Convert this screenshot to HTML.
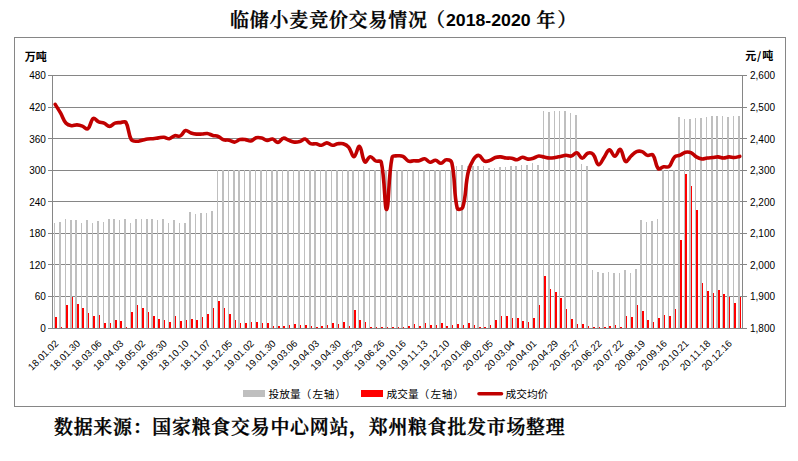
<!DOCTYPE html>
<html><head><meta charset="utf-8"><title>临储小麦竞价交易情况（2018-2020年）</title>
<style>
html,body{margin:0;padding:0;background:#fff;}
body{width:798px;height:461px;overflow:hidden;position:relative;}
svg{position:absolute;left:0;top:0;display:block;}
text{text-spacing-trim:space-all;font-kerning:none;}
.ax text{font-family:"Liberation Sans","Noto Sans CJK SC",sans-serif;font-size:9.8px;fill:#000;}
.ax text.y{font-size:10px;}
.ttl{font-family:"Liberation Serif","Noto Serif CJK SC",serif;font-weight:600;font-size:18.9px;letter-spacing:0.9px;fill:#000;stroke:#000;stroke-width:0.35px;}
.ttl.d{font-family:"Liberation Sans",sans-serif;font-size:16.5px;letter-spacing:0;stroke:none;}
.unit{font-family:"Liberation Sans","Noto Sans CJK SC",sans-serif;font-weight:700;font-size:11px;fill:#000;}
.leg{font-family:"Liberation Sans","Noto Sans CJK SC",sans-serif;font-size:10.7px;fill:#000;}
.src{font-family:"Liberation Serif","Noto Serif CJK SC",serif;font-weight:600;font-size:18.9px;letter-spacing:0.78px;fill:#000;stroke:#000;stroke-width:0.35px;}
</style></head>
<body>
<svg width="798" height="461" viewBox="0 0 798 461">
<rect x="0" y="0" width="798" height="461" fill="#fff"/>
<text class="ttl" x="230" y="26.7">临储小麦竞价交易情况</text><text class="ttl" x="426" y="26.7">（</text><text class="ttl d" x="446" y="25.8" textLength="84.6" lengthAdjust="spacingAndGlyphs">2018-2020</text><text class="ttl" x="536.5" y="26.7">年</text><text class="ttl" x="557.5" y="26.7">）</text>
<rect x="14.5" y="37.5" width="771" height="369" fill="#fff" stroke="#868686" stroke-width="1"/>
<text class="unit" x="24.8" y="60.5">万吨</text>
<text class="unit" x="745.3" y="59.8">元<tspan dx="0.6" style="font-family:'Noto Sans CJK SC',sans-serif;font-weight:700">/</tspan><tspan dx="1.2">吨</tspan></text>
<line x1="48" y1="75.5" x2="747" y2="75.5" stroke="#868686" stroke-width="1"/>
<line x1="48" y1="107.5" x2="747" y2="107.5" stroke="#868686" stroke-width="1"/>
<line x1="48" y1="138.5" x2="747" y2="138.5" stroke="#868686" stroke-width="1"/>
<line x1="48" y1="170.5" x2="747" y2="170.5" stroke="#868686" stroke-width="1"/>
<line x1="48" y1="201.5" x2="747" y2="201.5" stroke="#868686" stroke-width="1"/>
<line x1="48" y1="233.5" x2="747" y2="233.5" stroke="#868686" stroke-width="1"/>
<line x1="48" y1="264.5" x2="747" y2="264.5" stroke="#868686" stroke-width="1"/>
<line x1="48" y1="296.5" x2="747" y2="296.5" stroke="#868686" stroke-width="1"/>
<line x1="48" y1="328.5" x2="747" y2="328.5" stroke="#868686" stroke-width="1"/>
<path d="M54 328V223H55V328zM59 328V222H61V328zM65 328V219H66V328zM70 328V220H72V328zM75 328V220H77V328zM81 328V223H82V328zM86 328V220H88V328zM92 328V223H93V328zM97 328V221H99V328zM103 328V222H104V328zM108 328V219H110V328zM113 328V219H115V328zM119 328V220H120V328zM124 328V219H126V328zM130 328V223H131V328zM135 328V219H137V328zM141 328V219H142V328zM146 328V219H148V328zM151 328V219H153V328zM157 328V220H158V328zM162 328V219H164V328zM168 328V223H169V328zM173 328V220H175V328zM179 328V223H180V328zM184 328V223H186V328zM189 328V212H191V328zM195 328V214H196V328zM200 328V213H202V328zM206 328V213H207V328zM211 328V211H213V328zM217 328V170H218V328zM222 328V170H224V328zM228 328V170H229V328zM233 328V170H235V328zM238 328V170H240V328zM244 328V170H245V328zM249 328V170H251V328zM255 328V170H256V328zM260 328V170H262V328zM266 328V170H267V328zM271 328V170H273V328zM276 328V170H278V328zM282 328V170H283V328zM287 328V170H289V328zM293 328V170H294V328zM298 328V170H300V328zM304 328V170H305V328zM309 328V170H311V328zM314 328V170H316V328zM320 328V170H321V328zM325 328V170H327V328zM331 328V170H332V328zM336 328V170H338V328zM342 328V170H343V328zM347 328V170H349V328zM352 328V170H354V328zM358 328V170H359V328zM363 328V170H365V328zM369 328V170H370V328zM374 328V170H376V328zM380 328V170H381V328zM385 328V170H387V328zM391 328V170H392V328zM396 328V170H398V328zM401 328V170H403V328zM407 328V170H408V328zM412 328V170H414V328zM418 328V170H419V328zM423 328V170H425V328zM429 328V170H430V328zM434 328V170H436V328zM439 328V170H441V328zM445 328V170H446V328zM450 328V170H452V328zM456 328V166H457V328zM461 328V165H463V328zM467 328V166H468V328zM472 328V166H474V328zM477 328V166H479V328zM483 328V166H484V328zM488 328V168H490V328zM494 328V168H495V328zM499 328V167H501V328zM505 328V167H506V328zM510 328V166H512V328zM515 328V166H517V328zM521 328V165H522V328zM526 328V165H528V328zM532 328V163H533V328zM537 328V165H539V328zM543 328V111H544V328zM548 328V112H550V328zM554 328V111H555V328zM559 328V111H560V328zM564 328V111H566V328zM570 328V113H571V328zM575 328V115H577V328zM581 328V164H582V328zM586 328V166H588V328zM592 328V270H593V328zM597 328V272H599V328zM602 328V273H604V328zM608 328V272H609V328zM613 328V273H615V328zM619 328V273H620V328zM624 328V270H626V328zM630 328V273H631V328zM635 328V269H637V328zM640 328V220H642V328zM646 328V222H647V328zM651 328V221H653V328zM657 328V219H658V328zM662 328V170H664V328zM668 328V170H669V328zM673 328V170H675V328zM678 328V117H680V328zM684 328V119H685V328zM689 328V119H691V328zM695 328V118H696V328zM700 328V118H702V328zM706 328V117H707V328zM711 328V116H713V328zM716 328V116H718V328zM722 328V116H723V328zM727 328V117H729V328zM733 328V116H734V328zM738 328V116H740V328z" fill="#BFBFBF" shape-rendering="crispEdges"/>
<path d="M55 328V317H57V328zM61 328V327H62V328zM66 328V305H68V328zM72 328V297H73V328zM77 328V304H79V328zM82 328V308H84V328zM88 328V313H89V328zM93 328V316H95V328zM99 328V315H100V328zM104 328V323H106V328zM110 328V323H111V328zM115 328V320H117V328zM120 328V321H122V328zM126 328V327H127V328zM131 328V312H133V328zM137 328V305H138V328zM142 328V308H144V328zM148 328V312H149V328zM153 328V316H155V328zM158 328V319H160V328zM164 328V320H165V328zM169 328V322H171V328zM175 328V316H176V328zM180 328V321H182V328zM186 328V320H187V328zM191 328V319H193V328zM196 328V320H198V328zM202 328V317H203V328zM207 328V314H209V328zM213 328V308H214V328zM218 328V301H220V328zM224 328V308H225V328zM229 328V314H231V328zM235 328V320H236V328zM240 328V323H241V328zM245 328V323H247V328zM251 328V322H252V328zM256 328V322H258V328zM262 328V323H263V328zM267 328V323H269V328zM273 328V326H274V328zM278 328V326H280V328zM283 328V326H285V328zM289 328V325H290V328zM294 328V324H296V328zM300 328V325H301V328zM305 328V325H307V328zM311 328V326H312V328zM316 328V327H318V328zM321 328V326H323V328zM327 328V325H328V328zM332 328V323H334V328zM338 328V324H339V328zM343 328V322H345V328zM349 328V326H350V328zM354 328V310H356V328zM359 328V320H361V328zM365 328V322H366V328zM370 328V327H372V328zM376 328V327H377V328zM381 328V327H383V328zM387 328V327H388V328zM392 328V327H394V328zM398 328V327H399V328zM403 328V327H404V328zM408 328V326H410V328zM414 328V324H415V328zM419 328V326H421V328zM425 328V323H426V328zM430 328V325H432V328zM436 328V325H437V328zM441 328V323H443V328zM446 328V326H448V328zM452 328V325H453V328zM457 328V324H459V328zM463 328V325H464V328zM468 328V323H470V328zM474 328V325H475V328zM479 328V327H481V328zM484 328V327H486V328zM490 328V325H491V328zM495 328V320H497V328zM501 328V316H502V328zM506 328V316H508V328zM512 328V318H513V328zM517 328V318H519V328zM522 328V321H524V328zM528 328V322H529V328zM533 328V318H535V328zM539 328V305H540V328zM544 328V276H546V328zM550 328V289H551V328zM555 328V292H557V328zM560 328V298H562V328zM566 328V309H567V328zM571 328V319H573V328zM577 328V324H578V328zM582 328V324H584V328zM588 328V326H589V328zM593 328V327H595V328zM599 328V327H600V328zM604 328V327H606V328zM609 328V326H611V328zM615 328V325H616V328zM620 328V327H622V328zM626 328V316H627V328zM631 328V317H633V328zM637 328V305H638V328zM642 328V311H644V328zM647 328V320H649V328zM653 328V322H654V328zM658 328V318H660V328zM664 328V315H665V328zM669 328V316H671V328zM675 328V309H676V328zM680 328V240H682V328zM685 328V174H687V328zM691 328V186H692V328zM696 328V210H698V328zM702 328V283H703V328zM707 328V291H709V328zM713 328V293H714V328zM718 328V290H720V328zM723 328V294H725V328zM729 328V297H730V328zM734 328V303H736V328zM740 328V297H741V328z" fill="#FF0000" shape-rendering="crispEdges"/>
<line x1="52.5" y1="75" x2="52.5" y2="329" stroke="#868686" stroke-width="1"/>
<line x1="742.5" y1="75" x2="742.5" y2="329" stroke="#868686" stroke-width="1"/>
<line x1="52" y1="328.5" x2="743" y2="328.5" stroke="#868686" stroke-width="1"/>
<path d="M55.22 104.4C57.39 107.92 58.59 109.62 60.65 113.2C62.94 117.18 63.22 120.01 66.08 123.3C67.57 125.01 69.26 125.37 71.52 125.7C73.6 126.01 74.79 124.82 76.95 124.9C79.14 124.98 80.31 125.34 82.38 126.1C84.66 126.94 86.33 129.94 87.81 128.9C90.67 126.9 90.43 120.34 93.25 118.5C94.78 117.5 96.37 120.82 98.68 121.8C100.71 122.66 102.08 122.24 104.11 123.1C106.43 124.08 107.37 126.4 109.55 126.4C111.72 126.4 112.64 123.92 114.98 123.1C116.99 122.4 118.24 122.76 120.41 122.6C122.58 122.44 124.85 120.73 125.85 122.3C129.19 127.57 127.96 133.9 131.28 139.7C132.31 141.5 134.52 141.2 136.71 141.3C138.86 141.4 139.98 140.66 142.15 140.2C144.32 139.74 145.38 139.3 147.58 139C149.73 138.7 150.85 138.92 153.01 138.7C155.2 138.48 156.27 138.18 158.44 137.9C160.61 137.62 161.73 137.14 163.88 137.3C166.08 137.46 167.25 139 169.31 138.7C171.59 138.36 172.43 136.28 174.74 135.7C176.77 135.2 178.38 136.86 180.18 136C182.73 134.78 183.16 131.18 185.61 130.5C187.51 129.98 188.79 132.25 191.04 133C193.13 133.69 194.28 133.9 196.48 134.1C198.63 134.3 199.74 134.12 201.91 134C204.09 133.88 205.23 133.23 207.34 133.5C209.57 133.79 210.56 134.79 212.78 135.4C214.91 135.99 216.18 135.68 218.21 136.5C220.53 137.44 221.3 139 223.64 139.8C225.65 140.48 226.96 139.75 229.07 140.2C231.31 140.67 232.38 142.22 234.51 142.1C236.72 141.98 237.66 140.12 239.94 139.6C242.01 139.12 243.24 139.32 245.37 139.6C247.58 139.88 248.77 141.36 250.81 141C253.12 140.6 253.9 138.35 256.24 137.7C258.24 137.15 259.6 137.48 261.67 138C263.94 138.56 264.87 140.17 267.11 140.4C269.21 140.61 270.51 138.73 272.54 139.1C274.85 139.53 275.88 142.57 277.97 142.4C280.23 142.21 281.06 138.63 283.41 138.2C285.41 137.83 286.63 139.61 288.84 140.4C290.98 141.17 292.05 141.88 294.27 142.1C296.4 142.32 297.62 142.08 299.7 141.5C301.97 140.88 303.16 138.7 305.14 139.1C307.51 139.58 308.11 142.63 310.57 143.7C312.45 144.51 313.87 143.49 316 143.8C318.22 144.13 319.32 145.48 321.44 145.3C323.67 145.12 324.7 142.9 326.87 142.9C329.04 142.9 330.07 145.12 332.3 145.3C334.42 145.48 335.52 144.13 337.74 143.8C339.87 143.49 341.18 143.09 343.17 143.7C345.52 144.41 347.01 145.19 348.6 147.1C351.35 150.39 351.93 156.86 354.04 156.7C356.28 156.54 357.66 145.44 359.47 146.3C362.01 147.52 361.91 159.04 364.9 161.9C366.26 163.2 368.07 156.89 370.33 156.7C372.42 156.53 373.35 159.84 375.77 161C377.69 161.92 380.75 159.9 381.2 161.9C385.1 179.3 384.56 210.34 386.63 209.5C388.9 208.58 388.15 176.87 392.07 157.5C392.49 155.39 395.28 156.05 397.5 155.8C399.63 155.57 401.07 155.39 402.93 156.3C405.41 157.51 405.88 160.07 408.37 161.1C410.23 161.87 411.62 160.88 413.8 160.8C415.97 160.72 417.13 161.11 419.23 160.7C421.47 160.27 422.62 158.4 424.67 158.7C426.97 159.04 427.8 161.96 430.1 162.3C432.14 162.6 433.43 160.11 435.53 160.3C437.78 160.51 438.84 163.4 440.96 163.3C443.18 163.2 444.18 159.9 446.4 159.8C448.53 159.7 451.31 160.49 451.83 162.8C455.66 179.89 453.38 192.33 457.26 208.3C457.73 210.21 462.11 209.42 462.7 207.5C466.46 195.1 465.04 186.24 468.13 172.5C469.38 166.92 470.59 163.88 473.56 159.2C474.94 157.04 477.01 155.05 479 155.4C481.36 155.81 481.87 159.92 484.43 161.1C486.21 161.92 487.82 161.08 489.86 160.4C492.16 159.64 492.99 158.24 495.3 157.5C497.34 156.84 498.57 156.8 500.73 156.9C502.92 157 503.97 157.74 506.16 158C508.31 158.26 509.46 157.87 511.59 158.2C513.81 158.55 514.91 159.88 517.03 159.7C519.26 159.52 520.25 157.42 522.46 157.3C524.59 157.18 525.68 158.92 527.89 159.1C530.03 159.28 531.22 158.8 533.33 158.2C535.57 157.56 536.53 156.23 538.76 156C540.87 155.79 542.01 156.7 544.19 157.1C546.36 157.5 547.44 157.92 549.63 158C551.79 158.08 552.9 157.82 555.06 157.5C557.25 157.18 558.32 156.84 560.49 156.4C562.67 155.96 563.74 155.38 565.93 155.3C568.09 155.22 569.35 156.48 571.36 156C573.69 155.44 574.83 152.3 576.79 152.7C579.18 153.18 580 158.1 582.22 158.2C584.35 158.3 585.17 154.09 587.66 153.2C589.52 152.53 591.7 152.82 593.09 154.3C596.05 157.46 596.06 164.05 598.52 164.8C600.4 165.37 601.83 160.51 603.96 157.6C606.18 154.55 607.09 150.18 609.39 149.9C611.44 149.66 612.7 156.4 614.82 156.3C617.05 156.2 618.52 148.57 620.26 149.4C622.87 150.65 622.94 159.83 625.69 161.5C627.29 162.47 628.84 158.08 631.12 156C633.19 154.12 634.11 152.59 636.56 151.6C638.46 150.83 640.03 150.92 641.99 151.6C644.38 152.44 645.04 154.68 647.42 155.4C649.38 156 651.69 153.47 652.85 154.9C656.03 158.79 655.16 165.27 658.29 168.7C659.5 170.03 661.49 167.25 663.72 166.8C665.83 166.37 667.72 167.81 669.15 166.5C672.06 163.85 671.72 159.88 674.59 156.9C676.07 155.36 677.94 156.1 680.02 155.2C682.29 154.22 683.14 152.75 685.45 152.2C687.48 151.71 688.97 151.77 690.89 152.6C693.32 153.65 693.95 155.53 696.32 156.9C698.3 158.05 699.52 158.67 701.75 158.9C703.87 159.11 705 158.28 707.19 158C709.35 157.72 710.45 157.72 712.62 157.5C714.79 157.28 715.89 156.8 718.05 156.9C720.24 157 721.31 158 723.48 158C725.66 158 726.73 157 728.92 156.9C731.08 156.8 732.19 157.6 734.35 157.5C736.54 157.4 737.61 156.84 739.78 156.4" fill="none" stroke="#C00000" stroke-width="3.6" stroke-linejoin="round" stroke-linecap="round"/>
<g class="ax">
<text class="y" x="45.9" y="79" text-anchor="end">480</text>
<text class="y" x="750" y="79">2,600</text>
<text class="y" x="45.9" y="111" text-anchor="end">420</text>
<text class="y" x="750" y="111">2,500</text>
<text class="y" x="45.9" y="143" text-anchor="end">360</text>
<text class="y" x="750" y="143">2,400</text>
<text class="y" x="45.9" y="174" text-anchor="end">300</text>
<text class="y" x="750" y="174">2,300</text>
<text class="y" x="45.9" y="206" text-anchor="end">240</text>
<text class="y" x="750" y="206">2,200</text>
<text class="y" x="45.9" y="237" text-anchor="end">180</text>
<text class="y" x="750" y="237">2,100</text>
<text class="y" x="45.9" y="269" text-anchor="end">120</text>
<text class="y" x="750" y="269">2,000</text>
<text class="y" x="45.9" y="300" text-anchor="end">60</text>
<text class="y" x="750" y="300">1,900</text>
<text class="y" x="45.9" y="332" text-anchor="end">0</text>
<text class="y" x="750" y="332">1,800</text>
<text transform="translate(59.02 344.1) rotate(-45)" text-anchor="end">18.01.02</text>
<text transform="translate(80.75 344.1) rotate(-45)" text-anchor="end">18.01.30</text>
<text transform="translate(102.48 344.1) rotate(-45)" text-anchor="end">18.03.06</text>
<text transform="translate(124.21 344.1) rotate(-45)" text-anchor="end">18.04.03</text>
<text transform="translate(145.95 344.1) rotate(-45)" text-anchor="end">18.05.02</text>
<text transform="translate(167.68 344.1) rotate(-45)" text-anchor="end">18.05.30</text>
<text transform="translate(189.41 344.1) rotate(-45)" text-anchor="end">18.10.10</text>
<text transform="translate(211.14 344.1) rotate(-45)" text-anchor="end">18.11.07</text>
<text transform="translate(232.87 344.1) rotate(-45)" text-anchor="end">18.12.05</text>
<text transform="translate(254.61 344.1) rotate(-45)" text-anchor="end">19.01.02</text>
<text transform="translate(276.34 344.1) rotate(-45)" text-anchor="end">19.01.30</text>
<text transform="translate(298.07 344.1) rotate(-45)" text-anchor="end">19.03.06</text>
<text transform="translate(319.8 344.1) rotate(-45)" text-anchor="end">19.04.03</text>
<text transform="translate(341.54 344.1) rotate(-45)" text-anchor="end">19.04.30</text>
<text transform="translate(363.27 344.1) rotate(-45)" text-anchor="end">19.05.29</text>
<text transform="translate(385 344.1) rotate(-45)" text-anchor="end">19.06.26</text>
<text transform="translate(406.73 344.1) rotate(-45)" text-anchor="end">19.10.16</text>
<text transform="translate(428.47 344.1) rotate(-45)" text-anchor="end">19.11.13</text>
<text transform="translate(450.2 344.1) rotate(-45)" text-anchor="end">19.12.10</text>
<text transform="translate(471.93 344.1) rotate(-45)" text-anchor="end">20.01.08</text>
<text transform="translate(493.66 344.1) rotate(-45)" text-anchor="end">20.02.05</text>
<text transform="translate(515.39 344.1) rotate(-45)" text-anchor="end">20.03.04</text>
<text transform="translate(537.13 344.1) rotate(-45)" text-anchor="end">20.04.01</text>
<text transform="translate(558.86 344.1) rotate(-45)" text-anchor="end">20.04.29</text>
<text transform="translate(580.59 344.1) rotate(-45)" text-anchor="end">20.05.27</text>
<text transform="translate(602.32 344.1) rotate(-45)" text-anchor="end">20.06.22</text>
<text transform="translate(624.06 344.1) rotate(-45)" text-anchor="end">20.07.22</text>
<text transform="translate(645.79 344.1) rotate(-45)" text-anchor="end">20.08.19</text>
<text transform="translate(667.52 344.1) rotate(-45)" text-anchor="end">20.09.16</text>
<text transform="translate(689.25 344.1) rotate(-45)" text-anchor="end">20.10.21</text>
<text transform="translate(710.99 344.1) rotate(-45)" text-anchor="end">20.11.18</text>
<text transform="translate(732.72 344.1) rotate(-45)" text-anchor="end">20.12.16</text>
</g>
<g class="leg">
<rect x="243" y="390" width="22" height="7" fill="#BFBFBF"/>
<text x="268.5" y="397.5">投放量（<tspan dx="1.2">左</tspan><tspan dx="0.5">轴</tspan><tspan dx="1">）</tspan></text>
<rect x="361" y="390" width="22" height="7" fill="#FF0000"/>
<text x="386.5" y="397.5">成交量（<tspan dx="1.2">左</tspan><tspan dx="0.5">轴</tspan><tspan dx="1">）</tspan></text>
<line x1="479" y1="393.8" x2="501.5" y2="393.8" stroke="#C00000" stroke-width="3.6" stroke-linecap="round"/>
<text x="505.5" y="397.5">成交均价</text>
</g>
<text class="src" x="54" y="433.8">数据来源：国家粮食交易中心网站，郑州粮食批发市场整理</text>
</svg>
</body></html>
